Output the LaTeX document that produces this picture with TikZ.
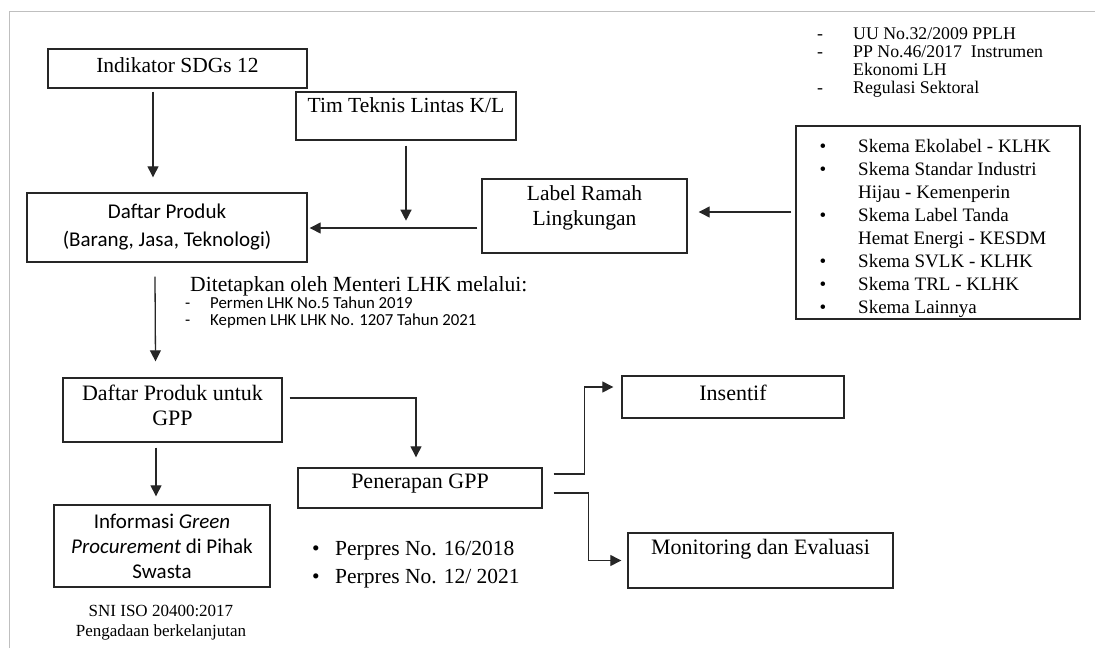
\documentclass[tikz,border=0pt]{standalone}
\usepackage{fontspec}
\setmainfont{Liberation Serif}
\newfontfamily\calfont{Carlito}
\usetikzlibrary{arrows.meta,calc}
\newcommand\fsz[2]{\fontsize{#1pt}{#2pt}\selectfont}
\begin{document}
\begin{tikzpicture}[x=1pt,y=-1pt,
  box/.style={draw=black!85, line width=1.4pt, inner sep=0pt, align=center, text=black},
  arr/.style={draw=black!85, line width=1.3pt, -{Triangle[length=11pt,width=11pt]}},
  lbl/.style={inner sep=0pt, text=black, anchor=base west}]
\useasboundingbox (0,0) rectangle (1095,648);
\fill[white] (0,0) rectangle (1095,648);
\draw[black!25, line width=1pt] (9,648) -- (9,11) -- (1095,11);

% boxes
\node[box, font=\fsz{21.5}{24}, minimum width=259pt, minimum height=39pt, text depth=7pt] (ind) at (177.5,68.5) {Indikator SDGs 12};
\node[box, font=\fsz{21.5}{24}, minimum width=220pt, minimum height=48pt, text depth=22pt] (tim) at (406,116) {Tim Teknis Lintas K/L};
\node[box, font={\calfont\fsz{21}{28}}, minimum width=280pt, minimum height=69pt] (dp) at (167,227.5) {Daftar Produk\\(Barang, Jasa, Teknologi)};
\node[box, font=\fsz{21.5}{25}, minimum width=205pt, minimum height=74pt, text depth=21.5pt] (label) at (584.5,216) {Label Ramah\\Lingkungan};
\node[box, minimum width=284pt, minimum height=193pt] (skema) at (938,222.5) {};
\node[box, font=\fsz{22}{25}, minimum width=219pt, minimum height=64pt, text depth=9pt] (dgpp) at (172.5,410) {Daftar Produk untuk\\GPP};
\node[box, font={\calfont\fsz{21}{25}}, minimum width=216pt, minimum height=82pt] (info) at (162,546) {Informasi \textit{Green}\\\textit{Procurement} di Pihak\\Swasta};
\node[box, font=\fsz{22}{25}, minimum width=244pt, minimum height=40pt, text depth=12.6pt] (pen) at (420,488) {Penerapan GPP};
\node[box, font=\fsz{22}{25}, minimum width=222pt, minimum height=42pt, text depth=8pt] (ins) at (733,397) {Insentif};
\node[box, font=\fsz{22}{25}, minimum width=265pt, minimum height=55pt, text depth=27.6pt] (mon) at (760.5,560.5) {Monitoring dan Evaluasi};

% text blocks
\node[lbl, font=\fsz{17.8}{18}] (laws) at (817,39) {\begin{tabular}[t]{@{}p{36pt}@{}l@{}}-&UU No.32/2009 PPLH\\-&PP No.46/2017 \ Instrumen\\&Ekonomi LH\\-&Regulasi Sektoral\end{tabular}};
\node[lbl, font=\fsz{19}{23}] (skemalist) at (819.5,152) {\begin{tabular}[t]{@{}p{38.5pt}@{}l@{}}•&Skema Ekolabel - KLHK\\•&Skema Standar Industri\\&Hijau - Kemenperin\\•&Skema Label Tanda\\&Hemat Energi - KESDM\\•&Skema SVLK - KLHK\\•&Skema TRL - KLHK\\•&Skema Lainnya\end{tabular}};
\node[lbl, font=\fsz{21.6}{24}] (ditetap) at (190,291) {Ditetapkan oleh Menteri LHK melalui:};
\node[lbl, font={\calfont\fsz{16.8}{17}}] (permen) at (185,308) {\begin{tabular}[t]{@{}p{25pt}@{}l@{}}-&Permen LHK No.5 Tahun 2019\\-&Kepmen LHK LHK No. 1207 Tahun 2021\end{tabular}};
\node[lbl, font=\fsz{21.5}{28}] (perpres) at (312,555.5) {\begin{tabular}[t]{@{}p{23pt}@{}l@{}}•&Perpres No. 16/2018\\•&Perpres No. 12/ 2021\end{tabular}};
\node[inner sep=0pt, align=center, text=black, font=\fsz{17}{20}] (sni) at (161,623) {SNI ISO 20400:2017\\Pengadaan berkelanjutan};

% connectors
\draw[arr] ([xshift=-24.5pt,yshift=-3pt]ind.south) -- ([xshift=-14pt,yshift=15pt]dp.north);
\draw[arr] ([yshift=-5pt]tim.south) -- ([yshift=-80pt]tim.south);
\coordinate (lstart) at ([xshift=-4pt,yshift=-12pt]label.west);
\draw[arr] (lstart) -- ([xshift=2pt]lstart -| dp.east);
\coordinate (sstart) at ([xshift=-4pt,yshift=10.5pt]skema.west);
\draw[arr] (sstart) -- ([xshift=11pt]sstart -| label.east);
\draw[arr] ([xshift=-12pt,yshift=-14pt]dp.south) -- ([xshift=-17pt,yshift=16pt]dgpp.north);
\draw[arr] ([xshift=7pt,yshift=12pt]dgpp.east) -| ([xshift=-4pt,yshift=10pt]pen.north);
\draw[arr] ([xshift=-16.5pt,yshift=-5pt]dgpp.south) -- ([xshift=-6pt,yshift=8pt]info.north);
\draw[arr] ([xshift=11pt,yshift=14pt]pen.east) -- ++(31,0) |- ([xshift=-8pt,yshift=10pt]ins.west);
\draw[arr] ([xshift=11pt,yshift=-5pt]pen.east) -- ++(35,0) |- ([xshift=-6pt]mon.west);
\end{tikzpicture}
\end{document}
